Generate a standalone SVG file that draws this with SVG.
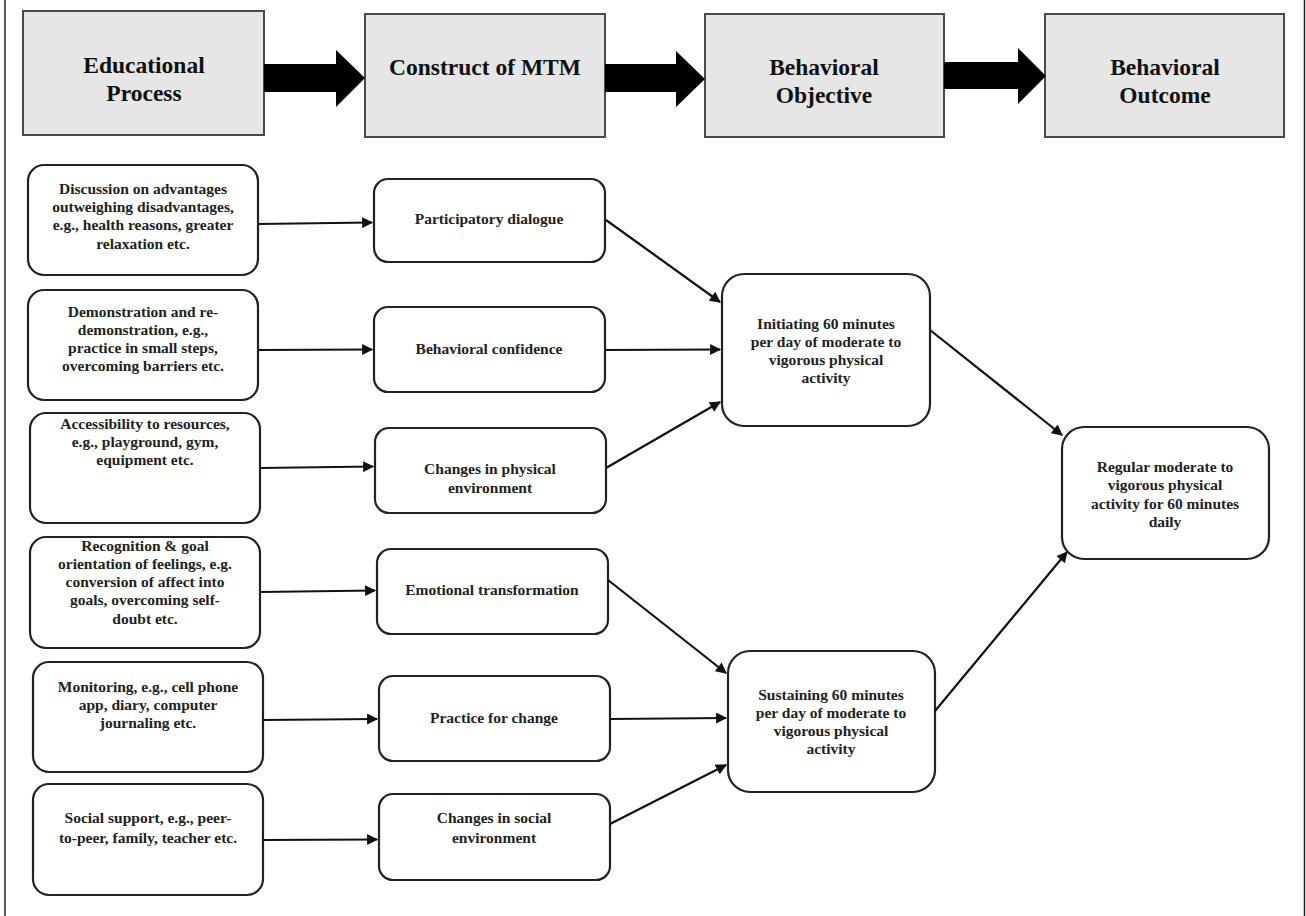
<svg xmlns="http://www.w3.org/2000/svg" width="1306" height="916" viewBox="0 0 1306 916">
<defs>
<style>
.hdr{fill:#e6e6e6;stroke:#4a4a4a;stroke-width:2}
.nd{fill:#fff;stroke:#222;stroke-width:2.2}
.ht{font-family:"Liberation Serif","Times New Roman",serif;font-weight:bold;font-size:23.5px;fill:#111;text-anchor:middle}
.t{font-family:"Liberation Serif","Times New Roman",serif;font-weight:bold;font-size:15.5px;fill:#222;text-anchor:middle}
.c{stroke:#111;stroke-width:2.2;fill:none;marker-end:url(#ah)}
.big{fill:#000}
.frame{stroke:#222;stroke-width:1.5}
</style>
<marker id="ah" viewBox="0 0 10 10" refX="9" refY="5" markerWidth="5.5" markerHeight="5" orient="auto" markerUnits="strokeWidth">
<path d="M0,0 L10,5 L0,10 z" fill="#111"/>
</marker>
</defs>
<rect width="1306" height="916" fill="#fff"/>
<line class="frame" x1="5" y1="0" x2="5" y2="916"/>
<line class="frame" x1="1304.5" y1="0" x2="1304.5" y2="916"/>

<g id="hdr-educational">
<rect class="hdr" x="23" y="11" width="241" height="124"/>
<text class="ht" x="144" y="73">Educational</text>
<text class="ht" x="144" y="101">Process</text>
</g>
<g id="hdr-construct">
<rect class="hdr" x="365" y="14" width="240" height="123"/>
<text class="ht" x="485" y="75">Construct of MTM</text>
</g>
<g id="hdr-objective">
<rect class="hdr" x="705" y="14" width="239" height="123"/>
<text class="ht" x="824" y="75">Behavioral</text>
<text class="ht" x="824" y="103">Objective</text>
</g>
<g id="hdr-outcome">
<rect class="hdr" x="1045" y="14" width="239" height="123"/>
<text class="ht" x="1165" y="75">Behavioral</text>
<text class="ht" x="1165" y="103">Outcome</text>
</g>

<g id="fat-arrows">
<path class="big" d="M264,64 L336,64 L336,50 L365,78 L336,107 L336,92 L264,92 z"/>
<path class="big" d="M605,64 L676,64 L676,51 L705,79 L676,107 L676,92 L605,92 z"/>
<path class="big" d="M944,62 L1018,62 L1018,48 L1046,76 L1018,104 L1018,89 L944,89 z"/>
</g>

<g id="n-discussion">
<rect class="nd" x="28" y="165" width="230" height="110" rx="16"/>
<text class="t" x="143" y="194">Discussion on advantages</text>
<text class="t" x="143" y="212">outweighing disadvantages,</text>
<text class="t" x="143" y="230">e.g., health reasons, greater</text>
<text class="t" x="143" y="249">relaxation etc.</text>
</g>
<g id="n-demonstration">
<rect class="nd" x="28" y="290" width="230" height="110" rx="16"/>
<text class="t" x="143" y="317">Demonstration and re-</text>
<text class="t" x="143" y="335">demonstration, e.g.,</text>
<text class="t" x="143" y="353">practice in small steps,</text>
<text class="t" x="143" y="371">overcoming barriers etc.</text>
</g>
<g id="n-accessibility">
<rect class="nd" x="30" y="413" width="230" height="110" rx="16"/>
<text class="t" x="145" y="429">Accessibility to resources,</text>
<text class="t" x="145" y="447">e.g., playground, gym,</text>
<text class="t" x="145" y="465">equipment etc.</text>
</g>
<g id="n-recognition">
<rect class="nd" x="30" y="537" width="230" height="111" rx="16"/>
<text class="t" x="145" y="551">Recognition &amp; goal</text>
<text class="t" x="145" y="569">orientation of feelings, e.g.</text>
<text class="t" x="145" y="587">conversion of affect into</text>
<text class="t" x="145" y="605">goals, overcoming self-</text>
<text class="t" x="145" y="624">doubt etc.</text>
</g>
<g id="n-monitoring">
<rect class="nd" x="33" y="662" width="230" height="110" rx="16"/>
<text class="t" x="148" y="692">Monitoring, e.g., cell phone</text>
<text class="t" x="148" y="710">app, diary, computer</text>
<text class="t" x="148" y="728">journaling etc.</text>
</g>
<g id="n-social">
<rect class="nd" x="33" y="784" width="230" height="111" rx="16"/>
<text class="t" x="148" y="823">Social support, e.g., peer-</text>
<text class="t" x="148" y="843">to-peer, family, teacher etc.</text>
</g>

<g id="m-participatory">
<rect class="nd" x="374" y="179" width="231" height="83" rx="14"/>
<text class="t" x="489" y="224">Participatory dialogue</text>
</g>
<g id="m-confidence">
<rect class="nd" x="374" y="307" width="231" height="85" rx="14"/>
<text class="t" x="489" y="354">Behavioral confidence</text>
</g>
<g id="m-physical">
<rect class="nd" x="375" y="428" width="231" height="85" rx="14"/>
<text class="t" x="490" y="474">Changes in physical</text>
<text class="t" x="490" y="493">environment</text>
</g>
<g id="m-emotional">
<rect class="nd" x="377" y="549" width="231" height="85" rx="14"/>
<text class="t" x="492" y="595">Emotional transformation</text>
</g>
<g id="m-practice">
<rect class="nd" x="379" y="676" width="231" height="85" rx="14"/>
<text class="t" x="494" y="723">Practice for change</text>
</g>
<g id="m-social">
<rect class="nd" x="379" y="794" width="231" height="86" rx="14"/>
<text class="t" x="494" y="823">Changes in social</text>
<text class="t" x="494" y="843">environment</text>
</g>

<g id="o-initiating">
<rect class="nd" x="722" y="274" width="208" height="152" rx="22"/>
<text class="t" x="826" y="329">Initiating 60 minutes</text>
<text class="t" x="826" y="347">per day of moderate to</text>
<text class="t" x="826" y="365">vigorous physical</text>
<text class="t" x="826" y="383">activity</text>
</g>
<g id="o-sustaining">
<rect class="nd" x="728" y="651" width="207" height="141" rx="22"/>
<text class="t" x="831" y="700">Sustaining 60 minutes</text>
<text class="t" x="831" y="718">per day of moderate to</text>
<text class="t" x="831" y="736">vigorous physical</text>
<text class="t" x="831" y="754">activity</text>
</g>
<g id="r-regular">
<rect class="nd" x="1062" y="427" width="207" height="132" rx="22"/>
<text class="t" x="1165" y="472">Regular moderate to</text>
<text class="t" x="1165" y="490">vigorous physical</text>
<text class="t" x="1165" y="509">activity for 60 minutes</text>
<text class="t" x="1165" y="527">daily</text>
</g>

<g id="connectors">
<line class="c" x1="258" y1="224" x2="372" y2="222.5"/>
<line class="c" x1="258" y1="350" x2="372" y2="349.5"/>
<line class="c" x1="260" y1="468" x2="373" y2="466.5"/>
<line class="c" x1="260" y1="592" x2="375" y2="590.5"/>
<line class="c" x1="263" y1="720" x2="377" y2="719"/>
<line class="c" x1="263" y1="840" x2="377" y2="839.5"/>
<line class="c" x1="606" y1="220" x2="720" y2="302"/>
<line class="c" x1="605" y1="350" x2="720" y2="349.5"/>
<line class="c" x1="606" y1="468" x2="720" y2="402"/>
<line class="c" x1="608" y1="580" x2="726" y2="673"/>
<line class="c" x1="610" y1="719" x2="726" y2="718"/>
<line class="c" x1="610" y1="824" x2="726" y2="765"/>
<line class="c" x1="930" y1="330" x2="1062" y2="435"/>
<line class="c" x1="935" y1="711" x2="1067" y2="552"/>
</g>
</svg>
